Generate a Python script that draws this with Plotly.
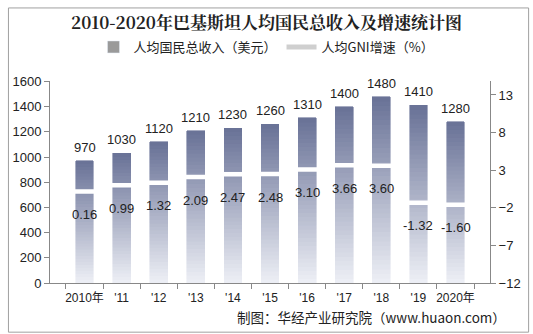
import plotly.graph_objects as go

years = ["2010年", "'11", "'12", "'13", "'14", "'15", "'16", "'17", "'18", "'19", "2020年"]
gni = [970, 1030, 1120, 1210, 1230, 1260, 1310, 1400, 1480, 1410, 1280]
growth = [0.16, 0.99, 1.32, 2.09, 2.47, 2.48, 3.10, 3.66, 3.60, -1.32, -1.60]
gni_value_labels = [str(v) for v in gni]
growth_value_labels = ["%.2f" % v for v in growth]

FONT = "Liberation Sans, Arial, Noto Sans CJK SC"
CJK = "Noto Sans CJK SC, Liberation Sans"

N = 40
top = (104, 113, 150)
bottom = (238, 240, 246)

def mix(t):
    c = [round(bottom[i] + (top[i] - bottom[i]) * t) for i in range(3)]
    return "rgb(%d,%d,%d)" % tuple(c)

fig = go.Figure()

# legend entries (first so they come first)
fig.add_trace(go.Bar(x=[None], y=[None], name="人均国民总收入（美元）", marker=dict(color="#9a9a9a"),
                     showlegend=True, legendrank=1))
fig.add_trace(go.Scatter(x=[None], y=[None], name="人均GNI增速（%）", mode="lines",
                         line=dict(color="#cfcfcf", width=5), showlegend=True, yaxis="y2", legendrank=2))

for k in range(N):
    t = (k + 0.5) / N
    col = mix(t)
    fig.add_trace(go.Bar(
        x=years, y=[v / N for v in gni], marker=dict(color=col, line=dict(width=0.6, color=col)),
        width=0.48, showlegend=False, hoverinfo="skip"))

fig.add_trace(go.Scatter(
    x=years, y=growth, yaxis="y2", mode="markers", showlegend=False,
    marker=dict(symbol="line-ew", size=20, line=dict(color="white", width=4.5)),
    hoverinfo="skip"))

for x, v, lab in zip(years, gni, gni_value_labels):
    fig.add_annotation(x=x, y=v, text=lab, showarrow=False, yanchor="bottom", yshift=4,
                       font=dict(family=FONT, size=13, color="#222"))
for x, v, lab in zip(years, growth, growth_value_labels):
    fig.add_annotation(x=x, y=v, yref="y2", text=lab, showarrow=False, yanchor="middle", yshift=-23,
                       font=dict(family=FONT, size=13, color="#222"))

# outer border
fig.add_shape(type="rect", xref="paper", yref="paper",
              x0=(0.5 - 43) / 450, x1=(532.5 - 43) / 450,
              y0=(283 - 333.5) / 207, y1=(283 - 0.5) / 207,
              line=dict(color="#a0a0a0", width=1))

fig.add_annotation(xref="paper", yref="paper", x=(511 - 43) / 450, y=(283 - 318) / 207,
                   xanchor="right", yanchor="middle", showarrow=False,
                   text="制图：华经产业研究院（www.huaon.com）",
                   font=dict(family=CJK, size=13.5, color="#222"))

fig.update_layout(
    width=533, height=334,
    margin=dict(l=43, r=40, t=76, b=51),
    paper_bgcolor="white", plot_bgcolor="white",
    barmode="stack", bargap=0.52,
    title=dict(text="<b>2010-2020年巴基斯坦人均国民总收入及增速统计图</b>", x=0.5, xanchor="center",
               y=1 - 23 / 334, yanchor="middle", yref="container",
               font=dict(family="Noto Serif CJK SC, Noto Sans CJK SC", size=17, color="#222")),
    legend=dict(orientation="h", x=0.5, xanchor="center", xref="container", y=1 - 47 / 334, yref="container",
                yanchor="middle", font=dict(family=CJK, size=13, color="#222"), itemwidth=30,
                traceorder="normal", tracegroupgap=0, bgcolor="rgba(0,0,0,0)"),
    xaxis=dict(type="category", showline=True, linecolor="#888", linewidth=1, ticks="outside",
               tickson="boundaries", ticklen=5, tickcolor="#888", showgrid=False, tickangle=0,
               ticklabelstandoff=4,
               tickfont=dict(family=FONT, size=12, color="#222")),
    yaxis=dict(range=[0, 1600], dtick=200, showline=True, linecolor="#888", ticks="outside", ticklen=5,
               tickcolor="#888", showgrid=False, zeroline=False,
               tickfont=dict(family=FONT, size=13, color="#222")),
    yaxis2=dict(overlaying="y", side="right", range=[-12, 14.8], tick0=-12, dtick=5, showline=True,
                linecolor="#888", ticks="outside", ticklen=5, tickcolor="#888", showgrid=False,
                zeroline=False, tickfont=dict(family=FONT, size=13, color="#222")),
    showlegend=True,
)

fig.write_html("out.html")
